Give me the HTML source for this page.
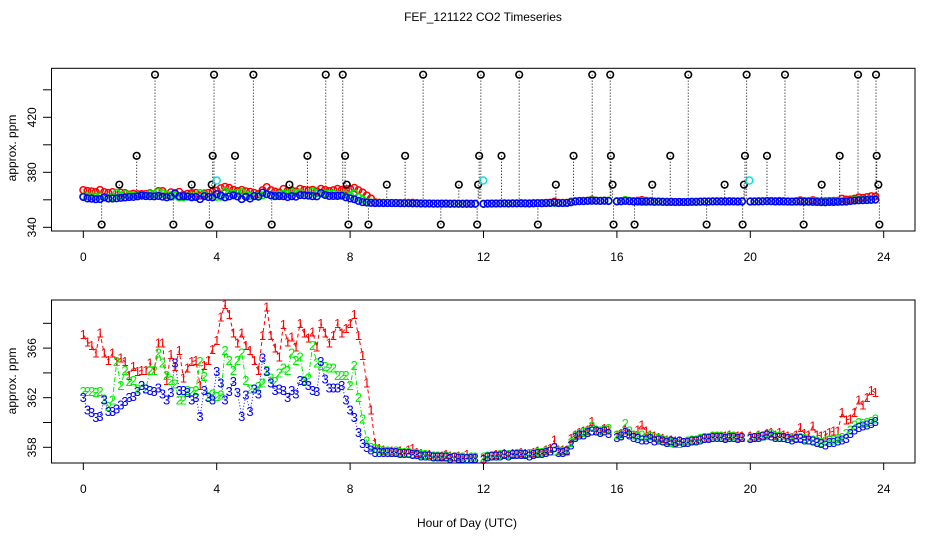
<!DOCTYPE html>
<html><head><meta charset="utf-8"><style>
html,body{margin:0;padding:0;background:#fff;}
svg{display:block;font-family:"Liberation Sans",sans-serif;}
</style></head><body>
<svg id="chart" width="936" height="540" viewBox="0 0 936 540">
<rect width="936" height="540" fill="#fff"/>
<text x="483" y="21" font-size="12" text-anchor="middle">FEF_121122  CO2 Timeseries</text>
<text x="467" y="527" font-size="12" text-anchor="middle">Hour of Day (UTC)</text>
<text transform="translate(16,148) rotate(-90)" font-size="12" text-anchor="middle">approx. ppm</text>
<text transform="translate(16,381) rotate(-90)" font-size="12" text-anchor="middle">approx. ppm</text>
<g id="topPanel"></g>
<g id="botPanel"></g>
</svg>
<script>
const hourTicks = [0,4,8,12,16,20,24];
const topYTicks = [340,360,380,400,420,440];
const topYLabels = ["340","","380","","420",""];
const botYTicks = [358,360,362,364,366,368];
const botYLabels = ["358","","362","","366",""];
const dt = 0.125;
const series1 = [
367.1,366.5,366.2,365.6,367.2,365.6,365.0,365.6,
364.9,365.2,364.9,363.8,364.5,364.1,364.2,364.2,
364.8,364.2,366.4,366.4,363.4,365.5,364.5,365.8,
363.6,364.4,364.9,365.0,363.0,364.6,365.0,365.9,
366.6,368.5,369.5,368.7,367.2,366.4,367.2,366.2,
365.8,365.0,364.2,367.0,369.3,367.0,366.0,365.3,
367.9,366.5,366.9,366.1,368.0,367.2,366.8,367.3,
366.1,368.0,367.2,366.4,367.0,368.0,367.2,367.6,
368.0,368.7,367.0,365.4,363.2,361.0,358.3,357.9,
357.8,357.7,357.7,357.6,357.7,357.6,357.8,357.9,
357.6,357.5,357.4,357.4,357.3,357.3,357.3,357.4,
357.3,357.2,357.3,357.2,357.4,357.2,357.2,null,
357.1,357.3,357.3,357.4,357.4,357.5,357.4,357.5,
357.5,357.6,357.5,357.5,357.6,357.7,357.6,357.8,
357.9,358.6,357.8,357.8,357.8,358.7,359.0,359.2,
359.3,359.4,360.1,359.4,359.3,359.5,359.4,null,
359.0,359.1,359.4,359.1,359.0,359.4,359.8,359.3,
359.0,358.9,358.8,358.7,358.6,358.6,358.5,358.5,
358.4,358.5,358.6,358.6,358.7,358.8,358.8,358.9,
358.9,358.9,358.9,359.0,358.9,358.9,358.9,null,
358.9,358.8,359.0,358.9,359.1,359.2,359.0,359.2,
359.0,358.9,358.8,359.0,359.6,359.1,359.0,359.7,
359.0,358.9,359.0,359.2,359.3,359.3,360.8,360.2,
360.3,360.8,361.8,361.4,362.0,362.6,362.4,null];
const series2 = [
362.5,362.5,362.5,362.4,362.5,361.9,361.3,361.8,
364.9,363.0,364.2,363.3,363.4,362.7,363.0,362.7,
364.2,364.2,365.6,364.8,363.8,363.4,363.1,361.8,
361.8,362.6,362.5,362.6,364.9,363.7,362.1,362.3,
362.1,362.2,365.8,365.0,364.2,365.0,365.6,363.4,
362.7,362.7,362.9,363.2,364.2,363.6,363.3,364.0,
364.4,364.2,365.6,365.0,365.3,363.4,363.6,366.2,
364.8,364.6,364.5,364.4,364.4,363.8,363.8,363.8,
363.0,364.6,362.0,360.3,358.5,358.0,357.9,357.8,
357.7,357.7,357.6,357.7,357.6,357.6,357.6,357.5,
357.5,357.4,357.4,357.3,357.3,357.3,357.2,357.3,
357.2,357.2,357.2,357.2,357.1,357.2,357.2,null,
357.2,357.3,357.3,357.3,357.4,357.4,357.4,357.4,
357.5,357.5,357.4,357.5,357.5,357.6,357.6,357.7,
357.7,357.7,357.7,357.7,357.7,358.4,358.9,359.1,
359.2,359.3,359.7,359.4,359.3,359.4,359.5,null,
359.0,359.0,359.9,359.3,359.0,358.9,359.0,358.8,
358.9,358.8,358.7,358.6,358.5,358.4,358.3,358.3,
358.4,358.5,358.6,358.6,358.7,358.8,358.8,358.9,
358.9,358.9,358.8,358.9,358.9,358.8,358.8,null,
358.8,358.8,358.9,358.9,359.0,359.1,358.9,358.9,
358.8,358.7,358.8,358.8,358.8,358.7,358.6,358.6,
358.5,358.4,358.5,358.6,358.6,358.7,358.8,359.1,
359.4,359.8,360.0,359.9,360.0,360.1,360.3,null];
const series3 = [
362.0,361.0,360.8,360.4,360.5,361.8,360.9,360.9,
361.1,361.4,361.7,362.0,362.1,362.5,363.0,362.7,
362.6,362.5,362.8,362.3,361.8,362.4,364.8,362.6,
362.6,362.4,361.8,362.0,360.5,362.6,362.0,361.8,
364.1,363.2,361.8,362.5,363.3,362.4,360.5,362.2,
360.9,362.7,362.3,365.2,364.1,363.2,362.6,362.7,
362.6,362.0,362.6,362.3,363.4,363.3,363.0,362.6,
362.5,364.9,363.5,362.8,362.8,362.8,363.0,361.8,
361.0,360.4,359.2,358.3,358.0,357.8,357.6,357.6,
357.6,357.6,357.6,357.6,357.5,357.5,357.5,357.4,
357.4,357.3,357.3,357.3,357.2,357.2,357.2,357.2,
357.1,357.2,357.1,357.1,357.1,357.1,357.1,null,
357.0,357.2,357.3,357.3,357.3,357.4,357.3,357.4,
357.4,357.4,357.4,357.3,357.4,357.5,357.5,357.6,
357.7,358.0,357.6,357.6,357.7,358.2,358.8,359.0,
359.0,359.2,359.3,359.3,359.2,359.3,359.1,null,
358.8,358.9,359.2,359.0,358.8,358.7,358.6,358.6,
358.7,358.5,358.6,358.5,358.4,358.5,358.4,358.5,
358.4,358.4,358.5,358.5,358.6,358.7,358.7,358.8,
358.8,358.8,358.7,358.8,358.8,358.7,358.8,null,
358.7,358.8,358.8,358.9,359.0,358.9,358.8,358.8,
358.8,358.7,358.6,358.7,358.7,358.6,358.6,358.5,
358.4,358.3,358.2,358.4,358.4,358.5,358.6,358.7,
359.1,359.4,359.6,359.7,359.8,359.9,360.1,null];
const spikeTimes = [0.55,1.08,1.6,2.15,2.7,3.25,3.78,3.85,3.88,3.92,4.55,5.1,5.65,6.18,6.72,7.27,7.78,7.85,7.9,7.95,8.55,9.1,9.65,10.19,10.72,11.26,11.81,11.84,11.87,11.92,12.54,13.07,13.63,14.17,14.7,15.26,15.8,15.82,15.87,15.9,16.53,17.06,17.6,18.14,18.69,19.23,19.77,19.81,19.84,19.89,20.5,21.04,21.6,22.14,22.68,23.23,23.77,23.79,23.84,23.87];
const spikeValues = [342,371,392,451,342,371,342,371,392,451,392,451,342,371,392,451,451,392,371,342,342,371,392,451,342,371,342,371,392,451,392,451,342,371,392,451,451,392,371,342,342,371,392,451,342,371,342,371,392,451,392,451,342,371,392,451,451,392,371,342];
const cyanTimes = [4.0,11.99,19.97];
const cyanValues = [374,374,374];

const NS = "http://www.w3.org/2000/svg";
const xS = t => 83.3 + t * 33.35;
const yTop = v => 227.3 - (v - 340) * 1.375;
const yBot = v => 447.3 - (v - 358) * 12.4;
function mk(tag, attrs, parent){ const e=document.createElementNS(NS,tag); for(const k in attrs) e.setAttribute(k,attrs[k]); parent.appendChild(e); return e; }

function axes(g, y0, y1, yS, yt, yl, labX, prefix){
  const box = mk('rect',{x:51.5,y:y0,width:863.5,height:y1-y0,fill:'none',stroke:'#000','stroke-width':1},g);
  
  
  hourTicks.forEach(h=>{
    const tk = mk('line',{x1:xS(h),x2:xS(h),y1:y1,y2:y1+7,stroke:'#000'},g);
    
    
    const tx = mk('text',{x:xS(h),y:y1+30,'font-size':12,'text-anchor':'middle'},g);
    tx.textContent = String(h);
    
    
  });
  yt.forEach((v,i)=>{
    const tk = mk('line',{x1:43,x2:51.5,y1:yS(v),y2:yS(v),stroke:'#000'},g);
    
    
    if(yl[i]){
      const tx = mk('text',{transform:`translate(${labX},${yS(v)}) rotate(-90)`,'font-size':12,'text-anchor':'middle'},g);
      tx.textContent = yl[i];
      
      
    }
  });
}

const topG = document.getElementById('topPanel');
const botG = document.getElementById('botPanel');
axes(topG, 68.3, 231, yTop, topYTicks, topYLabels, 36, 'top');
axes(botG, 300, 463, yBot, botYTicks, botYLabels, 36, 'bottom');

spikeTimes.forEach((t,i)=>{
  const v = spikeValues[i];
  const ln = mk('line',{x1:xS(t),x2:xS(t),y1:yTop(v),y2:yTop(360),stroke:'#000','stroke-width':1,'stroke-dasharray':'1,2'},topG);
  
  
});
const cols = ['#ff0000','#00ee00','#0000ff'];
const all = [series1, series2, series3];
all.forEach((s,si)=>{
  s.forEach((v,i)=>{
    if(v===null) return;
    const c = mk('circle',{cx:xS(i*dt),cy:yTop(v),r:3.3,fill:'none',stroke:cols[si],'stroke-width':1.5},topG);
    
    
  });
});
spikeTimes.forEach((t,i)=>{
  const c = mk('circle',{cx:xS(t),cy:yTop(spikeValues[i]),r:3.3,fill:'none',stroke:'#000','stroke-width':1.6},topG);
  
  
});
cyanTimes.forEach((t,i)=>{
  const c = mk('circle',{cx:xS(t),cy:yTop(cyanValues[i]),r:3.5,fill:'none',stroke:'#00e5e5','stroke-width':1.5},topG);
  
  
});

const dashes = ['4,3','5,2,1,2','1,2'];
all.forEach((s,si)=>{
  let d='', pen=false;
  s.forEach((v,i)=>{
    if(v===null){pen=false;return;}
    d += (pen?'L':'M') + xS(i*dt).toFixed(1)+','+yBot(v).toFixed(1);
    pen=true;
  });
  const p = mk('path',{d:d,fill:'none',stroke:cols[si],'stroke-width':1,'stroke-dasharray':dashes[si]},botG);
  
  
});
all.forEach((s,si)=>{
  s.forEach((v,i)=>{
    if(v===null) return;
    const tx = mk('text',{x:xS(i*dt),y:yBot(v)+4.5,'font-size':13,'text-anchor':'middle',fill:cols[si]},botG);
    tx.textContent = String(si+1);
    
    
  });
});
</script>
</body></html>
